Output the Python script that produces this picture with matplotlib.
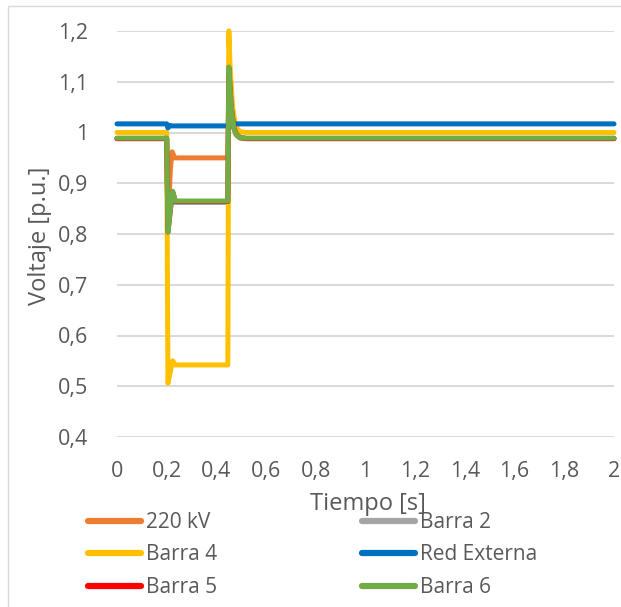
import matplotlib
matplotlib.use("Agg")
import matplotlib.pyplot as plt
from matplotlib.patches import Rectangle
from matplotlib.lines import Line2D

plt.rcParams['font.family'] = ['Open Sans', 'DejaVu Sans']

# Time samples (s) and bus voltages (p.u.) during a 3-phase fault 0.2 s - 0.45 s
t_220 = [0, 0.2, 0.205, 0.215, 0.222, 0.232, 0.446, 0.45, 0.46, 0.47, 0.48, 0.495, 0.52, 2.0]
v_220 = [0.988, 0.988, 0.82, 0.93, 0.962, 0.95, 0.95, 1.12, 1.05, 1.01, 0.995, 0.989, 0.988, 0.988]

t_b2 = [0, 0.2, 0.205, 0.215, 0.224, 0.235, 0.446, 0.45, 0.46, 0.47, 0.48, 0.495, 0.52, 2.0]
v_b2 = [0.988, 0.988, 0.803, 0.85, 0.882, 0.862, 0.862, 1.125, 1.05, 1.01, 0.996, 0.99, 0.988, 0.988]

t_b4 = [0, 0.2, 0.205, 0.215, 0.224, 0.235, 0.446, 0.45, 0.455, 0.465, 0.475, 0.485, 0.5, 0.52, 2.0]
v_b4 = [1.0, 1.0, 0.506, 0.53, 0.55, 0.542, 0.542, 1.2, 1.13, 1.05, 1.02, 1.006, 1.001, 1.0, 1.0]

t_red = [0, 0.2, 0.205, 0.212, 0.22, 0.446, 0.452, 0.465, 0.48, 2.0]
v_red = [1.017, 1.017, 1.009, 1.014, 1.013, 1.013, 1.019, 1.018, 1.017, 1.017]

t_b5 = [0, 0.2, 0.205, 0.215, 0.224, 0.235, 0.446, 0.45, 0.46, 0.47, 0.48, 0.495, 0.52, 2.0]
v_b5 = [0.988, 0.988, 0.804, 0.85, 0.883, 0.864, 0.864, 1.128, 1.05, 1.01, 0.997, 0.99, 0.988, 0.988]

t_b6 = [0, 0.2, 0.205, 0.215, 0.224, 0.235, 0.446, 0.45, 0.46, 0.47, 0.48, 0.495, 0.52, 2.0]
v_b6 = [0.989, 0.989, 0.804, 0.85, 0.884, 0.865, 0.865, 1.129, 1.05, 1.008, 0.996, 0.99, 0.989, 0.989]

series = [
    ("220 kV", t_220, v_220, "#ED7D31"),
    ("Barra 2", t_b2, v_b2, "#A5A5A5"),
    ("Barra 4", t_b4, v_b4, "#FFC000"),
    ("Red Externa", t_red, v_red, "#0070C0"),
    ("Barra 5", t_b5, v_b5, "#FF0000"),
    ("Barra 6", t_b6, v_b6, "#70AD47"),
]

x_ticks = [0, 0.2, 0.4, 0.6, 0.8, 1.0, 1.2, 1.4, 1.6, 1.8, 2.0]
y_ticks = [0.4, 0.5, 0.6, 0.7, 0.8, 0.9, 1.0, 1.1, 1.2]

TXT = "#595959"
GRID = "#D9D9D9"

W, H = 621, 607
fig = plt.figure(figsize=(W / 100, H / 100), dpi=100)

# chart-area border
fig.patches.append(Rectangle((8 / W, -0.01), 1.1, 1 - 6 / H + 0.01, transform=fig.transFigure,
                             fill=False, edgecolor=GRID, linewidth=1.0))

ax = fig.add_axes([117 / W, 1 - 437 / H, (614 - 117) / W, (437 - 31) / H])
lines = {}
for name, t, v, c in series:
    ln, = ax.plot(t, v, color=c, linewidth=3.6, solid_capstyle='round',
                  solid_joinstyle='round', label=name, clip_on=False)
    lines[name] = ln

ax.set_xlim(0, 2)
ax.set_ylim(0.4, 1.2)
ax.set_xticks(x_ticks)
ax.set_yticks(y_ticks)
ax.set_xticklabels([f"{v:g}".replace(".", ",") for v in x_ticks])
ax.set_yticklabels([f"{v:g}".replace(".", ",") for v in y_ticks])
ax.tick_params(length=0, labelsize=15.5, labelcolor=TXT)
ax.tick_params(axis='x', pad=17)
ax.tick_params(axis='y', pad=21)
ax.grid(axis='y', color=GRID, linewidth=1.4)
ax.set_axisbelow(True)
for s in ax.spines.values():
    s.set_visible(False)

fig.text(40 / W, 1 - 236 / H, "Voltaje [p.u.]", rotation=90, ha='center', va='center',
         fontsize=17, color=TXT)
fig.text(368 / W, 1 - 504 / H, "Tiempo [s]", ha='center', va='center', fontsize=17, color=TXT)

def legend_column(names, x_px):
    handles = [Line2D([], [], color=lines[n].get_color(), linewidth=4.5, solid_capstyle='round')
               for n in names]
    leg = fig.legend(handles, names, loc='upper left', bbox_to_anchor=(x_px / W, 1 - 512 / H),
                     frameon=False, fontsize=15, labelcolor=TXT, handlelength=2.55,
                     handletextpad=0.22, borderpad=0, borderaxespad=0, labelspacing=0.55)
    return leg

legend_column(["220 kV", "Barra 4", "Barra 5"], 88)
legend_column(["Barra 2", "Red Externa", "Barra 6"], 362)

fig.savefig("out.png", dpi=100)
